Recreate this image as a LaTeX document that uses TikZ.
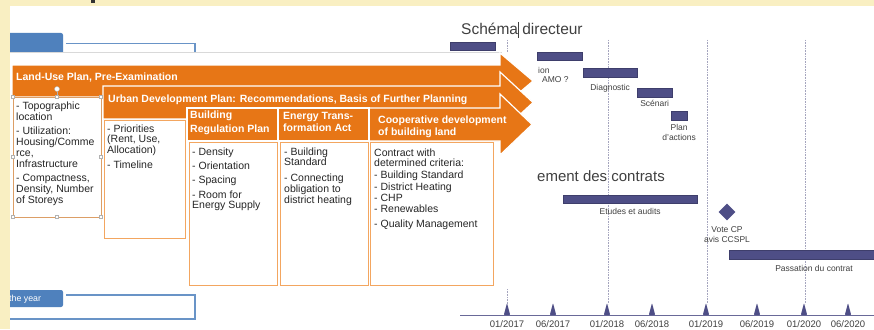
\documentclass[tikz,border=0pt]{standalone}
\usepackage{fontspec}
\setmainfont{Liberation Sans}
\usetikzlibrary{positioning,shapes.geometric}
\definecolor{slideyellow}{RGB}{249,239,194}
\definecolor{planorange}{RGB}{231,118,22}
\definecolor{boxorange}{RGB}{243,166,96}
\definecolor{officeblue}{RGB}{79,129,189}
\definecolor{ganttbar}{RGB}{78,78,134}
\definecolor{gantttext}{RGB}{64,64,64}
\definecolor{gridgray}{RGB}{165,165,190}

\begin{document}
\begin{tikzpicture}[x=1pt,y=-1pt,
		headtext/.style={text=white,font=\fontsize{10.5}{12}\selectfont\bfseries,anchor=base west,inner sep=0pt},
		itemtext/.style={text=black!85,font=\fontsize{10.5}{10.8}\selectfont,anchor=north west,inner sep=0pt,align=left},
		itembox/.style={draw=boxorange,line width=1.2pt,fill=white,anchor=north west,inner sep=0pt},
		planarrow/.style={fill=planorange,draw=white,line width=1.2pt},
		ganttbox/.style={fill=ganttbar,draw=ganttbar!80!black,line width=0.3pt,inner sep=0pt,anchor=north west},
		ganttlabel/.style={text=gantttext,font=\fontsize{8.5}{10}\selectfont,inner sep=0pt,align=center},
		gridline/.style={gridgray,densely dotted,line width=0.6pt},
		handle/.style={draw=gray!60,fill=white,line width=0.4pt,minimum size=3pt,inner sep=0pt}]
	\useasboundingbox (0,0) rectangle (874,329);
	\fill[white] (0,0) rectangle (874,329);
	
	\foreach \x in {608,707,805}
		\draw[gridline] (\x,40) -- (\x,304);
	\draw[gridline] (507,40) -- (507,52);
	\draw[gridline] (507,289) -- (507,304);
	
	\node[text=gantttext,font=\fontsize{15.5}{18}\selectfont,anchor=base west,inner sep=0pt] (schema) at (461,35) {Schéma directeur};
	\draw[black!75,line width=0.5pt] (518.5,22) -- (518.5,38);
	\node[text=gantttext,font=\fontsize{15}{18}\selectfont,anchor=base west,inner sep=0pt] (contrats) at (537,181.5) {ement des contrats};
	
	\node[ganttbox,minimum width=45pt,minimum height=8pt] (schemabar) at (450,42) {};
	\node[ganttbox,minimum width=45pt,minimum height=8pt] (amobar) at (537,52) {};
	\node[ganttlabel,anchor=west] (amo1) at (538,70) {ion};
	\node[ganttlabel,anchor=west] (amo2) at (542,80) {AMO ?};
	\node[ganttbox,minimum width=54pt,minimum height=9pt] (diagbar) at (583,68) {};
	\node[ganttlabel,below=6.5pt of diagbar] (diag) {Diagnostic};
	\node[ganttbox,minimum width=35pt,minimum height=9pt] (scenbar) at (637,88) {};
	\node[ganttlabel,below=2.5pt of scenbar] (scen) {Scénari};
	\node[ganttbox,minimum width=16pt,minimum height=9pt] (planbar) at (671,111) {};
	\node[ganttlabel,below=4pt of planbar] (plan) {Plan\\d'actions};
	\node[ganttbox,minimum width=134pt,minimum height=8pt] (etudesbar) at (563,195) {};
	\node[ganttlabel,below=5pt of etudesbar] (etudes) {Etudes et audits};
	\node[diamond,fill=ganttbar,inner sep=0pt,minimum size=17pt] (vote) at (727,212) {};
	\node[ganttlabel,below=5.5pt of vote] (votecp) {Vote CP\\avis CCSPL};
	\node[ganttbox,minimum width=150pt,minimum height=9pt] (passbar) at (729,250) {};
	\node[ganttlabel] (passation) at (814,268) {Passation du contrat};
	
	\draw[ganttbar!85,line width=1.5pt] (460,315.5) -- (874,315.5);
	\foreach \x/\m/\y in {507/01/2017,553/06/2017,607/01/2018,652/06/2018,706/01/2019,757/06/2019,804/01/2020,848/06/2020} {
		\fill[ganttbar,rounded corners=0.8pt] (\x-3.2,315) -- (\x,303) -- (\x+3.2,315) -- cycle;
		\node[text=gantttext,font=\fontsize{9.5}{11}\selectfont,anchor=base,inner sep=0pt] at (\x,327.5) {\m/\y};
	}
	
	\draw[black!15,line width=0.6pt] (9,52.5) -- (502,52.5);
	\draw[planarrow] (12,65) -- (500,65) -- (500,53) -- (533,81) -- (500,109) -- (500,97) -- (12,97) -- cycle;
	\draw[planarrow] (103,86) -- (500,86) -- (500,72) -- (533,102.5) -- (500,133) -- (500,119) -- (103,119) -- cycle;
	\draw[planarrow] (369,108) -- (500,108) -- (500,94) -- (532,124.5) -- (500,155) -- (500,141) -- (369,141) -- cycle;
	\draw[planarrow] (187,108) rectangle (278,141);
	\draw[planarrow] (278,108) rectangle (369,141);
	
	\node[headtext] (landuse) at (16,80) {Land-Use Plan, Pre-Examination};
	\node[headtext] (urban) at (108,102) {Urban Development Plan: Recommendations, Basis of Further Planning};
	\node[headtext] (bauleit1) at (190,118) {Building};
	\node[headtext] (bauleit2) at (190,132) {Regulation Plan};
	\node[headtext] (energy1) at (283,119) {Energy Trans-};
	\node[headtext] (energy2) at (283,131) {formation Act};
	\node[headtext] (coop1) at (378,123) {Cooperative development};
	\node[headtext] (coop2) at (378,135) {of building land};
	
	\node[itembox,draw=boxorange!80!gray,minimum width=88pt,minimum height=120pt] (landbox) at (13,97) {};
	\node[itembox,minimum width=81pt,minimum height=118pt] (urbanbox) at (104,120) {};
	\node[itembox,minimum width=88pt,minimum height=143pt] (bauleitbox) at (189,142) {};
	\node[itembox,minimum width=88pt,minimum height=143pt] (energybox) at (280,142) {};
	\node[itembox,minimum width=123pt,minimum height=143pt] (coopbox) at (370,142) {};
	
	\node[itemtext] (landitems) at (16,102) {- Topographic\\location\\[3.5pt]- Utilization:\\Housing/Comme\\rce,\\Infrastructure\\[3.5pt]- Compactness,\\Density, Number\\of Storeys};
	\node[itemtext] (urbanitems) at (107,124.3) {- Priorities\\(Rent, Use,\\Allocation)\\[3.5pt]- Timeline};
	\node[itemtext] (bauleititems) at (192,147.3) {- Density\\[3.5pt]- Orientation\\[3.5pt]- Spacing\\[3.5pt]- Room for\\Energy Supply};
	\node[itemtext] (energyitems) at (284,147.3) {- Building\\Standard\\[5pt]- Connecting\\obligation to\\district heating};
	\node[itemtext] (coopitems) at (374,148.3) {Contract with\\determined criteria:\\[1pt]- Building Standard\\[1pt]- District Heating\\- CHP\\- Renewables\\[5pt]- Quality Management};
	
	\foreach \x/\y in {13/97,57/97,101/97,13/157,101/157,13/217,57/217,101/217}
		\node[handle] at (\x,\y) {};
	\draw[gray!60,line width=0.4pt] (57,91.5) -- (57,95.5);
	\node[handle,circle,minimum size=5pt] (rotate) at (57,89) {};
	
	\fill[officeblue] (0,52) [rounded corners=2pt] -- (0,33) -- (63,33) [sharp corners] -- (63,52) -- cycle;
	\draw[officeblue!85,line width=1.5pt] (66,43.5) -- (195,43.5) -- (195,52);
	\fill[officeblue,rounded corners=2pt] (0,290) rectangle (63,307);
	\node[text=white,font=\fontsize{8.8}{10}\selectfont,anchor=base west,inner sep=0pt] (year) at (9,301.5) {the year};
	\draw[officeblue!85,line width=1.5pt] (66,295) -- (195,295) -- (195,319) -- (0,319);
	
	\fill[slideyellow] (0,0) rectangle (874,6);
	\fill[slideyellow] (0,0) rectangle (9.5,329);
	\fill[black!80] (91,0) rectangle (95,3.5);
\end{tikzpicture}
\end{document}
